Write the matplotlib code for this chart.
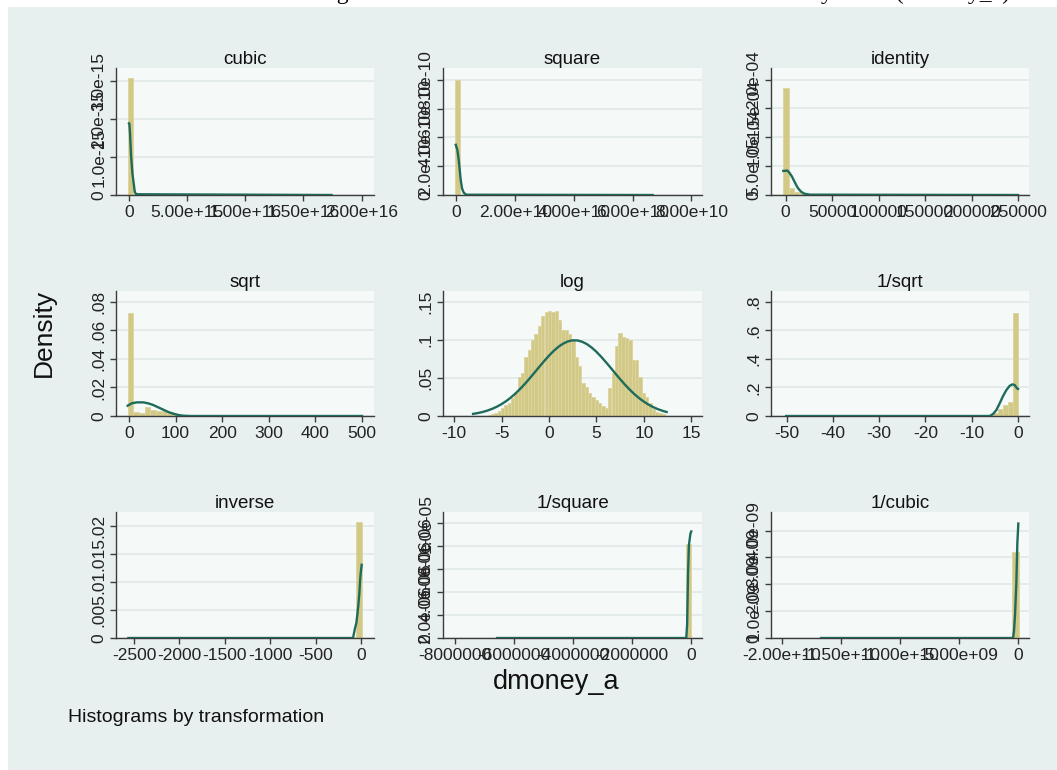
import matplotlib
matplotlib.use("Agg")
import matplotlib.pyplot as plt
from matplotlib.patches import Rectangle

plt.rcParams["font.family"] = ["Liberation Sans", "DejaVu Sans"]
plt.rcParams["axes.unicode_minus"] = False

# ---- histogram bins (centers, heights, bin width) and normal-curve points ----

cubic_centers = [1.3e14]
cubic_heights = [3.08e-15]
cubic_width = 4.9e14
cubic_curve_x = [0, 0.3e14, 0.86e14, 1.7e14, 2.9e14, 4.0e14, 4.9e14, 6.0e14, 1.742e16]
cubic_curve_y = [1.89e-15, 1.88e-15, 1.63e-15, 1.06e-15, 0.57e-15, 0.31e-15, 0.09e-15, 0.02e-15, 0]

square_centers = [4.0e8]
square_heights = [8.0e-10]
square_width = 1.94e9
square_curve_x = [-0.02e10, 0.034e10, 0.08e10, 0.114e10, 0.148e10, 0.193e10, 0.25e10, 0.34e10, 6.68e10]
square_curve_y = [3.48e-10, 3.13e-10, 2.43e-10, 1.74e-10, 1.04e-10, 0.46e-10, 0.16e-10, 0.02e-10, 0]

identity_centers = [400, 6200, 12000, 17800]
identity_heights = [1.85e-4, 1.27e-5, 0.58e-5, 0.3e-5]
identity_width = 5800
identity_curve_x = [-2500, 1790, 3940, 6800, 10030, 12890, 16480, 20060, 26150, 250000]
identity_curve_y = [4.17e-5, 4.23e-5, 3.88e-5, 3.19e-5, 2.14e-5, 1.27e-5, 0.58e-5, 0.23e-5, 0.06e-5, 0]

sqrt_centers = [3.2, 15.4, 27.6, 39.8, 52.0, 64.2, 76.4, 88.6, 100.8, 113.0]
sqrt_heights = [0.0723, 0.0027, 0.0018, 0.0063, 0.0043, 0.0038, 0.0033, 0.0026, 0.0016, 0.0006]
sqrt_width = 12.2
sqrt_curve_x = [-2.9, 5.7, 16.4, 30.7, 41.4, 52.1, 62.9, 73.6, 84.3, 95.0, 105.7, 116.4, 130.7, 500]
sqrt_curve_y = [0.00723, 0.00886, 0.00957, 0.00957, 0.00886, 0.0077, 0.00606, 0.00443,
                0.0028, 0.00163, 0.0007, 0.00023, 0, 0]

log_centers = [-6.29, -5.94, -5.59, -5.23, -4.88, -4.53, -4.17, -3.82, -3.47, -3.12,
               -2.76, -2.41, -2.06, -1.70, -1.35, -1.00, -0.65, -0.29, 0.06, 0.41,
               0.77, 1.12, 1.47, 1.83, 2.18, 2.53, 2.88, 3.24, 3.59, 3.94,
               4.30, 4.65, 5.00, 5.35, 5.71, 6.06, 6.41, 6.77, 7.12, 7.47,
               7.82, 8.18, 8.53, 8.88, 9.24, 9.59, 9.94, 10.29, 10.65, 11.00,
               11.35, 11.71, 12.06]
log_heights = [0.0009, 0.0026, 0.0044, 0.0070, 0.0101, 0.0144, 0.0175, 0.0232, 0.0297, 0.0507,
               0.0560, 0.0770, 0.0866, 0.0997, 0.1085, 0.1181, 0.1312, 0.1369, 0.1382, 0.1369,
               0.1387, 0.1269, 0.1137, 0.1129, 0.1085, 0.1006, 0.0770, 0.0656, 0.0429, 0.0385,
               0.0297, 0.0245, 0.0210, 0.0166, 0.0131, 0.0101, 0.0363, 0.0560, 0.0919, 0.1094,
               0.1041, 0.1028, 0.0997, 0.0735, 0.0735, 0.0516, 0.0297, 0.0254, 0.0166, 0.0087,
               0.0057, 0.0044, 0.0026]
log_width = 0.353
log_curve_x = [-8, -7.5, -7, -6.5, -6, -5.5, -5, -4.5, -4, -3.5, -3, -2.5, -2, -1.5, -1, -0.5,
               0, 0.5, 1, 1.5, 2, 2.5, 3, 3.5, 4, 4.5, 5, 5.5, 6, 6.5, 7, 7.5, 8, 8.5,
               9, 9.5, 10, 10.5, 11, 11.5, 12, 12.4]
log_curve_y = [0.00278, 0.00386, 0.00527, 0.00708, 0.00936, 0.0122, 0.01563, 0.0197, 0.02452,
               0.0300, 0.03612, 0.0428, 0.0500, 0.0575, 0.0650, 0.0724, 0.0794, 0.0857, 0.0911,
               0.0953, 0.0982, 0.0996, 0.0994, 0.0977, 0.0946, 0.0901, 0.0845, 0.0780, 0.0709,
               0.0635, 0.0559, 0.0485, 0.0414, 0.0348, 0.0288, 0.0235, 0.0189, 0.0149, 0.0116,
               0.0089, 0.0067, 0.00527]

isqrt_centers = [-0.45, -1.55, -2.65, -3.75, -4.85, -5.95]
isqrt_heights = [0.723, 0.10, 0.077, 0.047, 0.019, 0.007]
isqrt_width = 1.1
isqrt_curve_x = [-50.1, -6.12, -5.40, -4.68, -3.96, -3.24, -2.52, -1.80, -1.22, -0.72, -0.22, 0]
isqrt_curve_y = [0, 0, 0.014, 0.042, 0.089, 0.14, 0.182, 0.212, 0.222, 0.217, 0.194, 0.19]

inverse_centers = [-22]
inverse_heights = [0.02077]
inverse_width = 66
inverse_curve_x = [-2562, -91.5, -73.2, -54.9, -43.9, -32.9, -22.0, -14.6, -7.3, 3.7]
inverse_curve_y = [0, 0, 0.0015, 0.0027, 0.0042, 0.0059, 0.008, 0.0101, 0.0116, 0.0131]

isquare_centers = [-0.08e6]
isquare_heights = [8.2e-6]
isquare_width = 0.18e6
isquare_curve_x = [-6.563e6, -0.16e6, -0.13e6, -0.10e6, -0.07e6, -0.02e6, 0.01e6]
isquare_curve_y = [0, 0, 1.2e-6, 5.6e-6, 8.1e-6, 9.1e-6, 9.3e-6]

icubic_centers = [-0.21e9]
icubic_heights = [3.21e-9]
icubic_width = 0.54e9
icubic_curve_x = [-16.67e9, -0.42e9, -0.34e9, -0.25e9, -0.14e9, -0.056e9, 0.028e9]
icubic_curve_y = [0, 0, 0.25e-9, 0.86e-9, 2.04e-9, 3.52e-9, 4.26e-9]

# ---- axis ticks and labels ----
cubic_xt = [0, 5e15, 1e16, 1.5e16, 2e16]
cubic_xl = ["0", "5.00e+15", "1.00e+16", "1.50e+16", "2.00e+16"]
cubic_yt = [0, 1e-15, 2e-15, 3e-15]
cubic_yl = ["0", "1.0e-15", "2.0e-15", "3.0e-15"]

square_xt = [0, 2e10, 4e10, 6e10, 8e10]
square_xl = ["0", "2.00e+10", "4.00e+10", "6.00e+10", "8.00e+10"]
square_yt = [0, 2e-10, 4e-10, 6e-10, 8e-10]
square_yl = ["0", "2.0e-10", "4.0e-10", "6.0e-10", "8.0e-10"]

identity_xt = [0, 50000, 100000, 150000, 200000, 250000]
identity_xl = ["0", "50000", "100000", "150000", "200000", "250000"]
identity_yt = [0, 5e-5, 1e-4, 1.5e-4, 2e-4]
identity_yl = ["0", "5.0e-05", "1.0e-04", "1.5e-04", "2.0e-04"]

sqrt_xt = [0, 100, 200, 300, 400, 500]
sqrt_xl = ["0", "100", "200", "300", "400", "500"]
sqrt_yt = [0, 0.02, 0.04, 0.06, 0.08]
sqrt_yl = ["0", ".02", ".04", ".06", ".08"]

log_xt = [-10, -5, 0, 5, 10, 15]
log_xl = ["-10", "-5", "0", "5", "10", "15"]
log_yt = [0, 0.05, 0.1, 0.15]
log_yl = ["0", ".05", ".1", ".15"]

isqrt_xt = [-50, -40, -30, -20, -10, 0]
isqrt_xl = ["-50", "-40", "-30", "-20", "-10", "0"]
isqrt_yt = [0, 0.2, 0.4, 0.6, 0.8]
isqrt_yl = ["0", ".2", ".4", ".6", ".8"]

inverse_xt = [-2500, -2000, -1500, -1000, -500, 0]
inverse_xl = ["-2500", "-2000", "-1500", "-1000", "-500", "0"]
inverse_yt = [0, 0.005, 0.01, 0.015, 0.02]
inverse_yl = ["0", ".005", ".01", ".015", ".02"]

isquare_xt = [-8e6, -6e6, -4e6, -2e6, 0]
isquare_xl = ["-8000000", "-6000000", "-4000000", "-2000000", "0"]
isquare_yt = [0, 2e-6, 4e-6, 6e-6, 8e-6, 1e-5]
isquare_yl = ["0", "2.0e-06", "4.0e-06", "6.0e-06", "8.0e-06", "1.0e-05"]

icubic_xt = [-2e10, -1.5e10, -1e10, -5e9, 0]
icubic_xl = ["-2.00e+10", "-1.50e+10", "-1.00e+10", "-5.00e+09", "0"]
icubic_yt = [0, 1e-9, 2e-9, 3e-9, 4e-9]
icubic_yl = ["0", "1.0e-09", "2.0e-09", "3.0e-09", "4.0e-09"]

# colours (Stata s2color look)
OUTER_BG = "#E8F0EF"
PLOT_BG = "#F5FAF8"
GRID = "#E3EBEB"
BAR_FACE = "#D2C987"
BAR_EDGE = "#DCD49F"
LINE = "#1F6B5B"
AXIS = "#3C3C3C"

W, H = 1057, 770
fig = plt.figure(figsize=(W / 100, H / 100), dpi=100, facecolor="white")
fig.patches.append(Rectangle((8 / W, 0), 1 - 8 / W, (H - 7) / H, transform=fig.transFigure,
                             facecolor=OUTER_BG, edgecolor="none", zorder=-10))

# pixel boxes (left, top, right, bottom) of the 3x3 plot regions
cols = [(116, 374), (443, 702), (771, 1029)]
rows = [(68, 195), (291, 416), (512, 638)]

panels = [
    ("cubic", cubic_centers, cubic_heights, cubic_width, cubic_curve_x, cubic_curve_y,
     cubic_xt, cubic_xl, cubic_yt, cubic_yl, (-1.12e15, 2.107e16), 3.35e-15),
    ("square", square_centers, square_heights, square_width, square_curve_x, square_curve_y,
     square_xt, square_xl, square_yt, square_yl, (-0.455e10, 8.36e10), 8.81e-10),
    ("identity", identity_centers, identity_heights, identity_width, identity_curve_x,
     identity_curve_y, identity_xt, identity_xl, identity_yt, identity_yl,
     (-15760, 261800), 2.2e-4),
    ("sqrt", sqrt_centers, sqrt_heights, sqrt_width, sqrt_curve_x, sqrt_curve_y,
     sqrt_xt, sqrt_xl, sqrt_yt, sqrt_yl, (-27.9, 525.7), 0.0877),
    ("log", log_centers, log_heights, log_width, log_curve_x, log_curve_y,
     log_xt, log_xl, log_yt, log_yl, (-11.17, 16.13), 0.1645),
    ("1/sqrt", isqrt_centers, isqrt_heights, isqrt_width, isqrt_curve_x, isqrt_curve_y,
     isqrt_xt, isqrt_xl, isqrt_yt, isqrt_yl, (-53.38, 2.37), 0.877),
    ("inverse", inverse_centers, inverse_heights, inverse_width, inverse_curve_x,
     inverse_curve_y, inverse_xt, inverse_xl, inverse_yt, inverse_yl,
     (-2697.7, 139), 0.02255),
    ("1/square", isquare_centers, isquare_heights, isquare_width, isquare_curve_x,
     isquare_curve_y, isquare_xt, isquare_xl, isquare_yt, isquare_yl,
     (-8.396e6, 0.373e6), 1.1e-5),
    ("1/cubic", icubic_centers, icubic_heights, icubic_width, icubic_curve_x,
     icubic_curve_y, icubic_xt, icubic_xl, icubic_yt, icubic_yl,
     (-2.0904e10, 0.932e9), 4.69e-9),
]

for i, (title, cen, hgt, wid, cx, cy, xt, xl, yt, yl, xlim, ytop) in enumerate(panels):
    left, right = cols[i % 3]
    top, bottom = rows[i // 3]
    ax = fig.add_axes([left / W, 1 - bottom / H, (right - left) / W, (bottom - top) / H])
    ax.set_facecolor(PLOT_BG)
    ax.set_axisbelow(True)

    ax.bar(cen, hgt, width=wid, color=BAR_FACE, edgecolor=BAR_EDGE, linewidth=0.6, zorder=2)
    ax.plot(cx, cy, color=LINE, linewidth=1.7, zorder=3)

    ax.set_xlim(*xlim)
    ax.set_ylim(0, ytop)
    ax.set_xticks(xt)
    ax.set_xticklabels(xl)
    ax.set_yticks(yt)
    ax.set_yticklabels(yl, rotation=90, va="center")
    ax.yaxis.grid(True, color=GRID, linewidth=1.4)
    ax.tick_params(direction="out", length=4.5, width=1, color=AXIS,
                   labelsize=12.5, labelcolor="#222222", pad=2.5)

    for side in ("top", "right"):
        ax.spines[side].set_visible(False)
    for side in ("left", "bottom"):
        ax.spines[side].set_color(AXIS)
        ax.spines[side].set_linewidth(1)

    ax.set_title(title, fontsize=13.5, color="#111111", pad=3)

fig.text(44 / W, 1 - 333 / H, "Density", rotation=90, fontsize=19,
         ha="center", va="center", color="#111111")
fig.text(556 / W, 1 - 682 / H, "dmoney_a", fontsize=19.5,
         ha="center", va="center", color="#111111")
fig.text(68 / W, 1 - 717 / H, "Histograms by transformation", fontsize=14,
         ha="left", va="center", color="#111111")

# caption line running off the top edge
fig.text(1010 / W, 1 + 1.5 / H, "Figure 1: Gladder Transformation for Absolute Money Ratio (dmoney_a)",
         family=["Liberation Serif", "DejaVu Serif"], fontsize=17,
         ha="right", va="baseline", color="black")

fig.savefig("out.png", dpi=100, facecolor="white")
